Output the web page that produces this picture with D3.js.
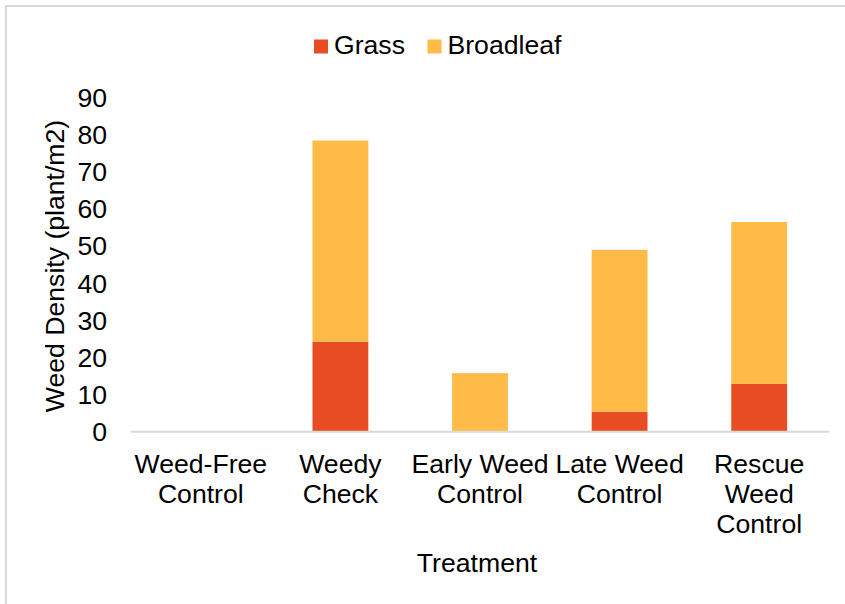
<!DOCTYPE html>
<html>
<head>
<meta charset="utf-8">
<script src="https://cdn.jsdelivr.net/npm/d3@7"></script>
<style>
  html, body { margin: 0; padding: 0; background: #fff; }
  svg text { font-family: "Liberation Sans", Arial, sans-serif; fill: #000; }
</style>
</head>
<body>
<svg id="chart" width="845" height="604"></svg>
<script>
// Weed density by treatment (plants per m2), stacked by weed type
const categories = [
  ["Weed-Free", "Control"],
  ["Weedy", "Check"],
  ["Early Weed", "Control"],
  ["Late Weed", "Control"],
  ["Rescue", "Weed", "Control"]
];
const grass     = [0, 24.3, 0, 5.4, 12.9];
const broadleaf = [0, 54.3, 15.8, 43.7, 43.7];
const seriesNames = ["Grass", "Broadleaf"];
const seriesColors = ["#E84C22", "#FEBB47"];
const yTicks = [0, 10, 20, 30, 40, 50, 60, 70, 80, 90];

const svg = d3.select("#chart");
const fontSize = 25;
const stretch = 1.065; // slightly wide lettering

// Outer chart frame
svg.append("rect")
  .attr("x", 6).attr("y", 6)
  .attr("width", 900).attr("height", 700)
  .attr("fill", "none")
  .attr("stroke", "#d9d9d9")
  .attr("stroke-width", 2);

const plot = { left: 131, right: 829, top: 98.3, bottom: 431.7 };

const keys = categories.map(c => c.join(" "));
const rows = keys.map((k, i) => ({ key: k, Grass: grass[i], Broadleaf: broadleaf[i] }));

const x = d3.scaleBand().domain(keys).range([plot.left, plot.right]).paddingInner(0.6).paddingOuter(0.3);
const y = d3.scaleLinear().domain([0, 90]).range([plot.bottom, plot.top]);

const stacked = d3.stack().keys(seriesNames)(rows);

// Bars
svg.append("g").selectAll("g")
  .data(stacked)
  .join("g")
  .attr("fill", (d, i) => seriesColors[i])
  .selectAll("rect")
  .data(d => d.filter(v => v[1] - v[0] > 0))
  .join("rect")
  .attr("x", d => x(d.data.key))
  .attr("width", x.bandwidth())
  .attr("y", d => y(d[1]))
  .attr("height", d => y(d[0]) - y(d[1]));

// Category axis line
svg.append("line")
  .attr("x1", plot.left).attr("x2", plot.right)
  .attr("y1", y(0)).attr("y2", y(0))
  .attr("stroke", "#d9d9d9")
  .attr("stroke-width", 2);

// Value axis tick labels
svg.append("g").selectAll("text")
  .data(yTicks)
  .join("text")
  .attr("transform", d => `translate(107,${y(d)}) scale(${stretch},1)`)
  .attr("dy", "0.36em")
  .attr("text-anchor", "end")
  .attr("font-size", fontSize)
  .text(d => d);

// Category labels (multi-line)
const catG = svg.append("g").selectAll("text")
  .data(categories)
  .join("text")
  .attr("text-anchor", "middle")
  .attr("font-size", fontSize)
  .attr("transform", (d, i) => `translate(${x(keys[i]) + x.bandwidth() / 2},473) scale(${stretch},1)`);
catG.selectAll("tspan")
  .data(d => d)
  .join("tspan")
  .attr("x", 0)
  .attr("y", (d, i) => i * 30)
  .text(d => d);

// Axis titles
svg.append("text")
  .attr("transform", `translate(${(plot.left + plot.right) / 2 - 3},572) scale(${stretch},1)`)
  .attr("text-anchor", "middle")
  .attr("font-size", fontSize)
  .text("Treatment");

svg.append("text")
  .attr("transform", `translate(64,${(plot.top + plot.bottom) / 2 + 1}) rotate(-90) scale(${stretch},1)`)
  .attr("text-anchor", "middle")
  .attr("font-size", fontSize)
  .text("Weed Density (plant/m2)");

// Legend
const legendItems = [
  { name: "Grass", color: seriesColors[0], x: 314 },
  { name: "Broadleaf", color: seriesColors[1], x: 427.5 }
];
const leg = svg.append("g").selectAll("g")
  .data(legendItems)
  .join("g")
  .attr("transform", d => `translate(${d.x},39.5)`);
leg.append("rect")
  .attr("width", 14).attr("height", 14)
  .attr("fill", d => d.color);
leg.append("text")
  .attr("transform", `translate(20,14) scale(${stretch},1)`)
  .attr("font-size", fontSize)
  .text(d => d.name);
</script>
</body>
</html>
